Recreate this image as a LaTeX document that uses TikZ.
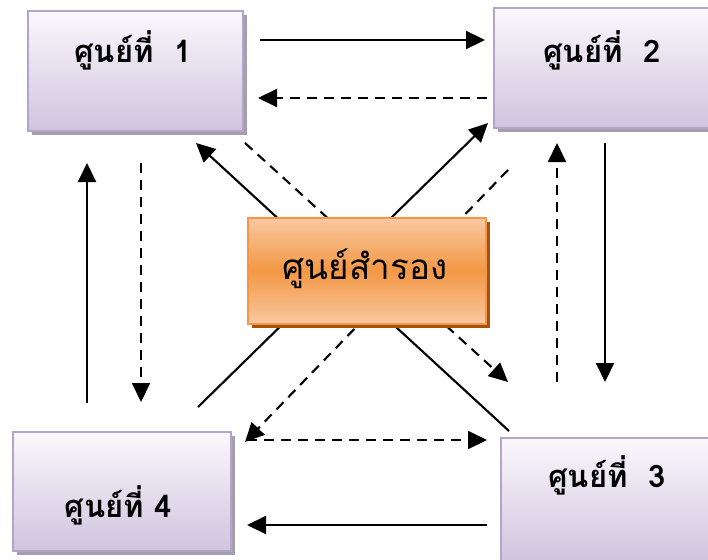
\documentclass[tikz,border=0pt]{standalone}
\usepackage{fontspec}
\newfontfamily\thaifont[Script=Thai]{Loma}
\usetikzlibrary{arrows.meta,shadows}
\definecolor{ptop}{HTML}{FAF8FC}
\definecolor{pbot}{HTML}{D0C4DE}
\definecolor{pedge}{HTML}{B4A3CA}
\definecolor{pshadow}{HTML}{A59FAC}
\definecolor{otop}{HTML}{F9C8A0}
\definecolor{omid}{HTML}{F39845}
\definecolor{oedge}{HTML}{F79646}
\definecolor{oshadow}{HTML}{A3530F}
\tikzset{
  sitebox/.style={draw=pedge, line width=1.8pt, shading=axis, top color=ptop, bottom color=pbot,
    inner sep=0pt, anchor=north west,
    drop shadow={shadow xshift=4pt, shadow yshift=-4pt, fill=pshadow, opacity=1}},
  centerbox/.style={draw=oedge, line width=1.8pt, shading=axis, top color=otop, bottom color=otop, middle color=omid,
    inner sep=0pt, anchor=north west,
    drop shadow={shadow xshift=4pt, shadow yshift=-4pt, fill=oshadow, opacity=1}},
  sitelabel/.style={anchor=base, inner sep=0pt, font=\thaifont\fontsize{31}{36}\selectfont\bfseries},
  centerlabel/.style={anchor=base, inner sep=0pt, font=\thaifont\fontsize{35}{40}\selectfont},
  conn/.style={line width=2.1pt, -{Triangle[length=19pt,width=18pt]}},
  dashline/.style={dash pattern=on 10pt off 7pt},
}
\begin{document}
\begin{tikzpicture}[x=1pt,y=-1pt]
\useasboundingbox (0,0) rectangle (708,559);
\clip (0,0) rectangle (708,559);
\fill[white] (0,0) rectangle (708,559);
% end points
\coordinate (a1s) at (260,40);   \coordinate (a1e) at (485,40);
\coordinate (a2s) at (487,98);   \coordinate (a2e) at (258,98);
\coordinate (a3s) at (605,143);  \coordinate (a3e) at (605,382);
\coordinate (a4s) at (557,382);  \coordinate (a4e) at (557,143);
\coordinate (a5s) at (247,440);  \coordinate (a5e) at (487,440);
\coordinate (a6s) at (487,525);  \coordinate (a6e) at (247,525);
\coordinate (a7s) at (87,403);   \coordinate (a7e) at (87,163);
\coordinate (a8s) at (141,163);  \coordinate (a8e) at (141,402);
\coordinate (d1s) at (198,407);  \coordinate (d1e) at (488,123);
\coordinate (d2s) at (509,431);  \coordinate (d2e) at (196,143);
\coordinate (d3s) at (245,143);  \coordinate (d3e) at (508,382);
\coordinate (d4s) at (508,170);  \coordinate (d4e) at (245,442);
% diagonals (behind the centre box)
\draw[conn] (d1s) -- (d1e);
\draw[conn] (d2s) -- (d2e);
\draw[conn,dashline] (d3s) -- (d3e);
\draw[conn,dashline] (d4s) -- (d4e);
% boxes
\node[sitebox, minimum width=215pt, minimum height=120pt] (b1) at (27,10) {};
\node[sitebox, minimum width=225pt, minimum height=120pt] (b2) at (493,7) {};
\node[sitebox, minimum width=225pt, minimum height=124pt] (b3) at (500,437) {};
\node[sitebox, minimum width=218pt, minimum height=119pt] (b4) at (12,431) {};
\node[centerbox, minimum width=238pt, minimum height=106pt] (c) at (247,217) {};
% labels
\node[sitelabel] (t1) at (133,63) {ศูนย์ที่\ \ 1};
\node[sitelabel] (t2) at (602,63) {ศูนย์ที่\ \ 2};
\node[sitelabel] (t3) at (607,487) {ศูนย์ที่\ \ 3};
\node[sitelabel] (t4) at (118,517) {ศูนย์ที่ 4};
\node[centerlabel] (t5) at (365,279) {ศูนย์สำรอง};
% straight connectors
\draw[conn] (a1s) -- (a1e);
\draw[conn,dashline] (a2s) -- (a2e);
\draw[conn] (a3s) -- (a3e);
\draw[conn,dashline] (a4s) -- (a4e);
\draw[conn,dashline] (a5s) -- (a5e);
\draw[conn] (a6s) -- (a6e);
\draw[conn] (a7s) -- (a7e);
\draw[conn,dashline] (a8s) -- (a8e);
\end{tikzpicture}
\end{document}
